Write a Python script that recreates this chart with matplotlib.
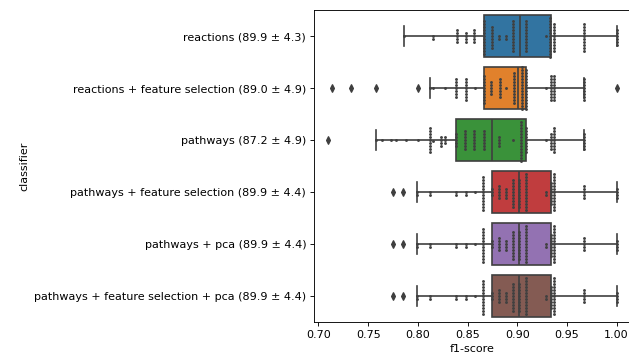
import numpy as np
import pandas as pd
import matplotlib
matplotlib.use("Agg")
import matplotlib.pyplot as plt
import seaborn as sns

# classifier names as shown on the y axis
tick_labels = [
    "reactions (89.9 ± 4.3)",
    "reactions + feature selection (89.0 ± 4.9)",
    "pathways (87.2 ± 4.9)",
    "pathways + feature selection (89.9 ± 4.4)",
    "pathways + pca (89.9 ± 4.4)",
    "pathways + feature selection + pca (89.9 ± 4.4)",
]

# f1-scores: distinct value -> number of points
reactions_values = [0.786, 0.815, 0.839, 0.848, 0.857, 0.867, 0.875, 0.882, 0.889, 0.896,
                    0.909, 0.929, 0.933, 0.937, 0.967, 1.0]
reactions_counts = [1, 2, 5, 4, 5, 12, 8, 2, 2, 11,
                    11, 1, 14, 10, 10, 6]

reactions_fs_values = [0.714, 0.733, 0.758, 0.800, 0.812, 0.815, 0.8275, 0.838, 0.848, 0.858,
                       0.867, 0.874, 0.8825, 0.889, 0.897, 0.905, 0.909, 0.929, 0.934, 0.937,
                       0.967, 1.0]
reactions_fs_counts = [1, 1, 1, 1, 1, 1, 1, 7, 8, 1,
                       10, 5, 7, 1, 11, 15, 14, 1, 9, 9,
                       8, 1]

pathways_values = [0.710, 0.758, 0.764, 0.773, 0.778, 0.788, 0.800, 0.8124, 0.815, 0.823,
                   0.8275, 0.838, 0.847, 0.857, 0.867, 0.882, 0.896, 0.904, 0.909, 0.929,
                   0.934, 0.937, 0.967]
pathways_counts = [1, 1, 1, 1, 1, 1, 1, 9, 1, 4,
                   3, 5, 7, 7, 7, 4, 1, 14, 9, 1,
                   6, 9, 6]

pathways_fs_values = [0.7745, 0.7852, 0.7996, 0.8124, 0.8388, 0.8483, 0.8573, 0.866, 0.875, 0.882,
                      0.8885, 0.896, 0.902, 0.909, 0.929, 0.934, 0.937, 0.967, 1.0]
pathways_fs_counts = [1, 1, 2, 2, 2, 2, 1, 12, 3, 5,
                      4, 10, 10, 13, 2, 8, 13, 5, 4]

# the two pca variants give the same scores as pathways + feature selection
pathways_pca_values = list(pathways_fs_values)
pathways_pca_counts = list(pathways_fs_counts)
pathways_fs_pca_values = list(pathways_fs_values)
pathways_fs_pca_counts = list(pathways_fs_counts)

all_values = [reactions_values, reactions_fs_values, pathways_values,
              pathways_fs_values, pathways_pca_values, pathways_fs_pca_values]
all_counts = [reactions_counts, reactions_fs_counts, pathways_counts,
              pathways_fs_counts, pathways_pca_counts, pathways_fs_pca_counts]

scores = [np.repeat(v, c) for v, c in zip(all_values, all_counts)]
df = pd.DataFrame({
    "f1-score": np.concatenate(scores),
    "pos": np.concatenate([np.full(len(s), i) for i, s in enumerate(scores)]),
})

colors = sns.color_palette("tab10", 6, desat=0.75)
line_color = "#3f3f3f"

DPI = 80
fig = plt.figure(figsize=(629 / DPI, 357 / DPI), dpi=DPI)
ax = fig.add_axes([314 / 629, 35 / 357, 317 / 629, 312 / 357])

# points first, boxes underneath via zorder
sns.swarmplot(data=df, x="f1-score", y="pos", orient="h", native_scale=True,
              color=".25", size=2.6, ax=ax, zorder=3)

line_kw = dict(color=line_color, linewidth=1.5)
bp = ax.boxplot(scores, positions=range(len(scores)), widths=0.8,
                orientation="horizontal", patch_artist=True, manage_ticks=False,
                whis=1.5,
                boxprops=dict(edgecolor=line_color, linewidth=1.5),
                medianprops=line_kw, whiskerprops=line_kw, capprops=line_kw,
                flierprops=dict(marker="d", markersize=5, markerfacecolor=line_color,
                                markeredgecolor=line_color))
for patch, c in zip(bp["boxes"], colors):
    patch.set_facecolor(c)

ax.set_xlim(0.6955, 1.0145)
ax.set_ylim(len(scores) - 0.5, -0.5)
ax.set_yticks(range(len(tick_labels)), labels=tick_labels)
ax.set_xticks(np.arange(0.70, 1.001, 0.05))
ax.set_xticklabels([f"{t:.2f}" for t in np.arange(0.70, 1.001, 0.05)])
ax.set_xlabel("f1-score")
ax.set_ylabel("classifier")

fig.savefig("out.png", dpi=DPI)
